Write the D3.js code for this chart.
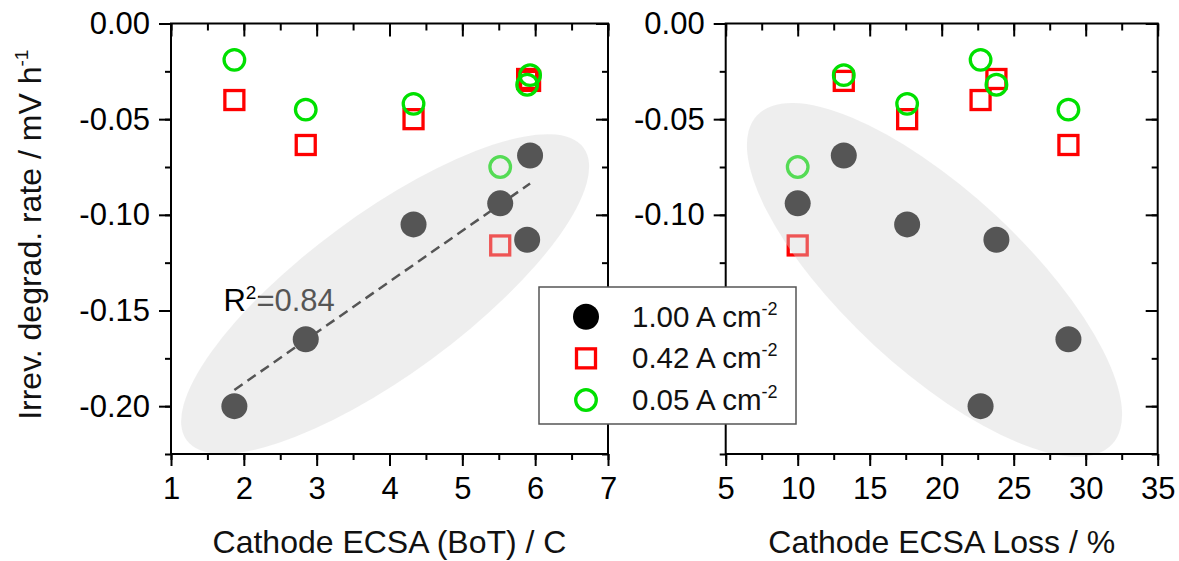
<!DOCTYPE html>
<html>
<head>
<meta charset="utf-8">
<script src="https://cdn.jsdelivr.net/npm/d3@7"></script>
<style>
  body { margin: 0; background: #fff; }
  svg { display: block; font-family: "Liberation Sans", Arial, sans-serif; }
</style>
</head>
<body>
<div id="chart"></div>
<script>
// six samples
const ecsaBoT  = [1.87, 2.85, 4.33, 5.52, 5.93, 5.89];
const ecsaLoss = [22.7, 28.8, 17.6, 10.0, 13.2, 23.8];
const rate100  = [-0.200, -0.165, -0.105, -0.094, -0.069, -0.113];
const rate042  = [-0.040, -0.0635, -0.050, -0.116, -0.030, -0.029];
const rate005  = [-0.019, -0.045, -0.042, -0.075, -0.027, -0.032];
const seriesLabels = ['1.00', '0.42', '0.05'];
const yTicks = [0, -0.05, -0.10, -0.15, -0.20];
const xTicksBoT = [1, 2, 3, 4, 5, 6, 7];
const xTicksLoss = [5, 10, 15, 20, 25, 30, 35];
const r2Text = '0.84';

const width = 1179, height = 561;
const yTop = 23.5, yBot = 454;

const svg = d3.select('#chart').append('svg')
  .attr('width', width)
  .attr('height', height);

const y = d3.scaleLinear().domain([-0.225, 0]).range([yBot, yTop]);

const RED = '#ff0000', GREEN = '#00e000';

function drawMarkers(g, x, xs) {
  g.selectAll('.c100').data(xs).enter().append('circle')
    .attr('cx', d => x(d))
    .attr('cy', (d, i) => y(rate100[i]))
    .attr('r', 13)
    .attr('fill', '#000');
  g.selectAll('.c042').data(xs).enter().append('rect')
    .attr('x', d => x(d) - 9.5)
    .attr('y', (d, i) => y(rate042[i]) - 9.5)
    .attr('width', 19).attr('height', 19)
    .attr('fill', 'none').attr('stroke', RED).attr('stroke-width', 3.3);
  g.selectAll('.c005').data(xs).enter().append('circle')
    .attr('cx', d => x(d))
    .attr('cy', (d, i) => y(rate005[i]))
    .attr('r', 10.3)
    .attr('fill', 'none').attr('stroke', GREEN).attr('stroke-width', 3.3);
}

function drawAxes(g, x, xTicks, minorStep) {
  const [x0, x1] = x.range();
  const minorX = d3.range(x.domain()[0], x.domain()[1] + 1e-9, minorStep);
  const minorY = d3.range(-0.225, 1e-9, 0.025);

  const style = sel => {
    sel.select('.domain').remove();
    sel.selectAll('line').attr('stroke', '#000').attr('stroke-width', 2);
  };

  // bottom
  g.append('g').attr('transform', `translate(0,${yBot})`)
    .call(d3.axisBottom(x).tickValues(minorX).tickSize(6).tickFormat(''))
    .call(style);
  g.append('g').attr('transform', `translate(0,${yBot})`)
    .call(d3.axisBottom(x).tickValues(xTicks).tickSize(12).tickPadding(11).tickFormat(d3.format('d')))
    .call(style)
    .selectAll('text').attr('font-size', 31).attr('fill', '#000').attr('font-family', null);
  // top (inward)
  g.append('g').attr('transform', `translate(0,${yTop})`)
    .call(d3.axisBottom(x).tickValues(minorX).tickSize(7).tickFormat(''))
    .call(style);
  g.append('g').attr('transform', `translate(0,${yTop})`)
    .call(d3.axisBottom(x).tickValues(xTicks).tickSize(13).tickFormat(''))
    .call(style);
  // left
  g.append('g').attr('transform', `translate(${x0},0)`)
    .call(d3.axisLeft(y).tickValues(minorY).tickSize(6).tickFormat(''))
    .call(style);
  g.append('g').attr('transform', `translate(${x0},0)`)
    .call(d3.axisLeft(y).tickValues(yTicks).tickSize(12).tickPadding(9).tickFormat(d => d.toFixed(2)))
    .call(style)
    .selectAll('text').attr('font-size', 31).attr('fill', '#000').attr('font-family', null);
  // right (inward)
  g.append('g').attr('transform', `translate(${x1},0)`)
    .call(d3.axisLeft(y).tickValues(minorY).tickSize(6).tickFormat(''))
    .call(style);
  g.append('g').attr('transform', `translate(${x1},0)`)
    .call(d3.axisLeft(y).tickValues(yTicks).tickSize(12).tickFormat(''))
    .call(style);

  g.append('rect')
    .attr('x', x0).attr('y', yTop)
    .attr('width', x1 - x0).attr('height', yBot - yTop)
    .attr('fill', 'none').attr('stroke', '#000').attr('stroke-width', 2);
}

function drawEllipse(g, cx, cy, rx, ry, angle) {
  g.append('ellipse')
    .attr('cx', 0).attr('cy', 0)
    .attr('rx', rx).attr('ry', ry)
    .attr('transform', `translate(${cx},${cy}) rotate(${angle})`)
    .attr('fill', 'rgb(212,212,212)')
    .attr('fill-opacity', 0.4);
}

// ---- left panel: ECSA at BoT ----
const xL = d3.scaleLinear().domain([1, 7]).range([171, 608]);
const gL = svg.append('g');
drawMarkers(gL, xL, ecsaBoT);

// linear fit of the 1.00 A cm-2 series
const mx = d3.mean(ecsaBoT), my = d3.mean(rate100);
const slope = d3.sum(ecsaBoT, (d, i) => (d - mx) * (rate100[i] - my)) /
              d3.sum(ecsaBoT, d => (d - mx) * (d - mx));
const fitX = d3.extent(ecsaBoT);
gL.append('line')
  .attr('x1', xL(fitX[0])).attr('y1', y(my + slope * (fitX[0] - mx)))
  .attr('x2', xL(fitX[1])).attr('y2', y(my + slope * (fitX[1] - mx)))
  .attr('stroke', '#000').attr('stroke-width', 2.5)
  .attr('stroke-dasharray', '10,6');

const r2 = gL.append('text')
  .attr('x', xL(1.72)).attr('y', y(-0.150))
  .attr('font-size', 31).attr('fill', '#000');
r2.append('tspan').text('R');
r2.append('tspan').attr('font-size', 19).attr('dy', -12).text('2');
r2.append('tspan').attr('dy', 12).text('=' + r2Text);

drawEllipse(gL, xL(3.94), y(-0.1414), 246.5, 80, -36.4);
drawAxes(gL, xL, xTicksBoT, 0.5);

// ---- right panel: ECSA loss ----
const xR = d3.scaleLinear().domain([5, 35]).range([725.7, 1157.7]);
const gR = svg.append('g');
drawMarkers(gR, xR, ecsaLoss);
drawEllipse(gR, xR(19.5), y(-0.134), 242, 89, 42.8);
drawAxes(gR, xR, xTicksLoss, 2.5);

// ---- axis titles ----
svg.append('text')
  .attr('x', (171 + 608) / 2).attr('y', 553)
  .attr('text-anchor', 'middle').attr('font-size', 32).attr('fill', '#111')
  .text('Cathode ECSA (BoT) / C');
svg.append('text')
  .attr('x', (725.7 + 1157.7) / 2).attr('y', 553)
  .attr('text-anchor', 'middle').attr('font-size', 32).attr('fill', '#111')
  .text('Cathode ECSA Loss / %');
const yt = svg.append('text')
  .attr('transform', `translate(41,${(yTop + yBot) / 2 - 4}) rotate(-90)`)
  .attr('text-anchor', 'middle').attr('font-size', 32).attr('fill', '#111');
yt.append('tspan').text('Irrev. degrad. rate / mV h');
yt.append('tspan').attr('font-size', 19).attr('dy', -13).text('-1');

// ---- legend ----
const lg = svg.append('g');
lg.append('rect')
  .attr('x', 539).attr('y', 287).attr('width', 257).attr('height', 137)
  .attr('fill', '#fff').attr('stroke', '#555').attr('stroke-width', 1.5);
const rowY = d3.scalePoint().domain(seriesLabels).range([316.7, 400]);
const symX = 586;
lg.append('circle').attr('cx', symX).attr('cy', rowY('1.00')).attr('r', 13).attr('fill', '#000');
lg.append('rect').attr('x', symX - 9.5).attr('y', rowY('0.42') - 9.5)
  .attr('width', 19).attr('height', 19)
  .attr('fill', 'none').attr('stroke', RED).attr('stroke-width', 3.3);
lg.append('circle').attr('cx', symX).attr('cy', rowY('0.05')).attr('r', 10.3)
  .attr('fill', 'none').attr('stroke', GREEN).attr('stroke-width', 3.3);
seriesLabels.forEach(lab => {
  const t = lg.append('text')
    .attr('x', 632).attr('y', rowY(lab) + 10)
    .attr('font-size', 29.5).attr('fill', '#111');
  t.append('tspan').text(lab + ' A cm');
  t.append('tspan').attr('font-size', 18).attr('dy', -12).text('-2');
});
</script>
</body>
</html>
